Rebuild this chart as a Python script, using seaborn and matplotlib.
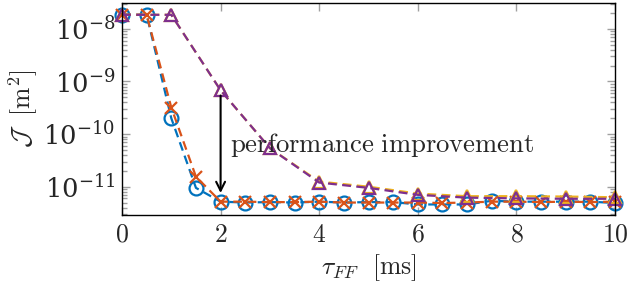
import numpy as np
import pandas as pd
import matplotlib
matplotlib.use("Agg")
import matplotlib.pyplot as plt
import seaborn as sns
from matplotlib.ticker import FixedLocator, FuncFormatter, LogLocator, LogFormatterMathtext, NullFormatter

# ---- data ----
t_fine = [0, 0.5, 1, 1.5, 2, 2.5, 3, 3.5, 4, 4.5, 5, 5.5, 6, 6.5, 7, 7.5, 8, 8.5, 9, 9.5, 10]
J_blue = [1.85e-8, 1.85e-8, 2.0e-10, 9.5e-12, 5.2e-12, 5.0e-12, 5.1e-12, 5.0e-12, 5.2e-12,
          5.0e-12, 5.1e-12, 5.1e-12, 4.6e-12, 4.6e-12, 4.6e-12, 5.4e-12, 5.2e-12, 5.2e-12,
          5.2e-12, 5.2e-12, 4.9e-12]
J_orange = [1.85e-8, 1.85e-8, 3.2e-10, 1.55e-11, 5.2e-12, 5.2e-12, 5.1e-12, 5.1e-12, 5.2e-12,
            5.0e-12, 5.0e-12, 5.0e-12, 5.0e-12, 4.9e-12, 5.0e-12, 5.2e-12, 5.2e-12, 5.1e-12,
            5.2e-12, 5.1e-12, 5.2e-12]
t_coarse = [0, 1, 2, 3, 4, 5, 6, 7, 8, 9, 10]
J_yellow = [1.85e-8, 1.85e-8, 6.8e-10, 5.4e-11, 1.25e-11, 1.0e-11, 7.4e-12, 6.6e-12, 6.6e-12, 6.5e-12, 6.3e-12]
J_purple = [1.85e-8, 1.85e-8, 6.8e-10, 5.4e-11, 1.2e-11, 9.5e-12, 7.0e-12, 6.2e-12, 6.0e-12, 5.9e-12, 5.9e-12]

x_ticks = [0, 2, 4, 6, 8, 10]
annotation_text = "performance improvement"

plt.rcParams["mathtext.fontset"] = "cm"
sns.set_style("ticks")
plt.rcParams["font.family"] = ["DejaVu Serif"]

FS = 18.5

fig = plt.figure(figsize=(6.29, 2.91), dpi=100)
ax = fig.add_axes([122 / 629, 1 - 215 / 291, (615 - 122) / 629, (215 - 3) / 291])

series = [
    (t_fine, J_blue, "#0072BD", "o", 10),
    (t_fine, J_orange, "#D95319", "x", 8),
    (t_coarse, J_yellow, "#EDB120", "^", 9),
    (t_coarse, J_purple, "#7E2F8E", "^", 9),
]
for xs, ys, col, mk, ms in series:
    df = pd.DataFrame({"t": xs, "J": ys})
    sns.lineplot(data=df, x="t", y="J", ax=ax, color=col, linewidth=1.6,
                 marker=mk, markersize=ms, markerfacecolor="none", markeredgecolor=col,
                 markeredgewidth=1.6, clip_on=False, dashes=False)
    ax.lines[-1].set_dashes((4.0, 2.4))

ax.set_yscale("log")
ax.set_xlim(0, 10)
ax.set_ylim(2.9e-12, 3.1e-8)

ax.xaxis.set_major_locator(FixedLocator(x_ticks))
ax.xaxis.set_major_formatter(FuncFormatter(lambda v, p: r"$\mathrm{%d}$" % v))
ax.yaxis.set_major_locator(LogLocator(base=10, numticks=10))
ax.yaxis.set_major_formatter(LogFormatterMathtext())
ax.yaxis.set_minor_locator(LogLocator(base=10, subs=np.arange(2, 10), numticks=20))
ax.yaxis.set_minor_formatter(NullFormatter())
ax.xaxis.get_offset_text().set_visible(False)
ax.yaxis.get_offset_text().set_visible(False)

ax.tick_params(which="both", direction="in", top=True, right=True, color="#a0a0a0",
               labelsize=FS, width=1.0)
ax.tick_params(which="major", length=6, pad=5)
ax.tick_params(which="minor", length=3.5)
for s in ax.spines.values():
    s.set_linewidth(1.0)
    s.set_color("black")

ax.set_xlabel(r"$\tau_{FF}\ \ [\mathrm{ms}]$", fontsize=FS, labelpad=4)
ax.set_ylabel(r"$\mathcal{J}\ \ [\mathrm{m}^2]$", fontsize=FS, labelpad=2)

ax.annotate("", xy=(2, 7.6e-12), xytext=(2, 5.4e-10),
            arrowprops=dict(arrowstyle="->", color="black", lw=1.5, mutation_scale=16,
                            shrinkA=0, shrinkB=0))
ax.text(2.2, 6.2e-11, r"$\mathrm{performance\ improvement}$", fontsize=19.2,
        ha="left", va="center")

fig.savefig("out.png", dpi=100)
